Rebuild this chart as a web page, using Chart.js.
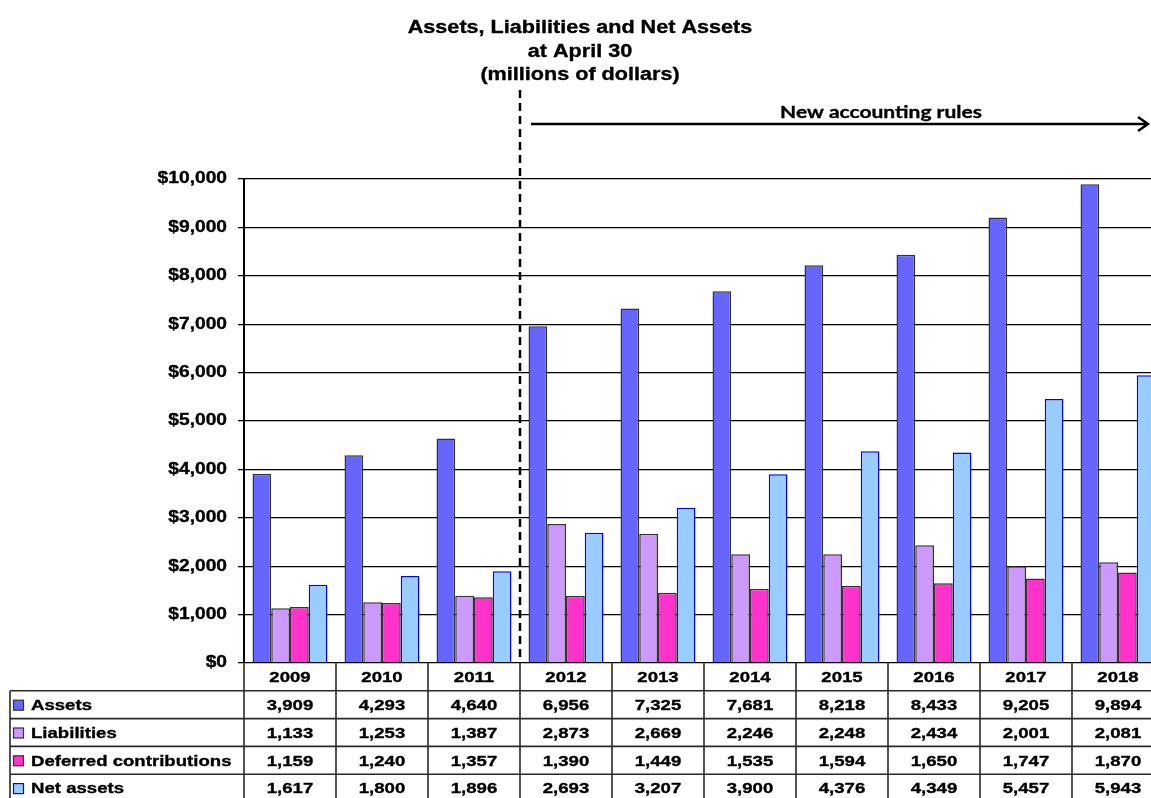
<!DOCTYPE html>
<html lang="en">
<head>
  <meta charset="UTF-8" />
  <title>Assets, Liabilities and Net Assets</title>
  <script src="https://cdn.jsdelivr.net/npm/chart.js"></script>
  <style>
    body { margin: 0; background: #fff; overflow: hidden; }
    #wrap { width: 1170px; height: 798px; position: relative; }
  </style>
</head>
<body>
  <div id="wrap"><canvas id="chart"></canvas></div>

  <script>
    const years = ['2009', '2010', '2011', '2012', '2013', '2014', '2015', '2016', '2017', '2018'];
    const assets = [3909, 4293, 4640, 6956, 7325, 7681, 8218, 8433, 9205, 9894];
    const liabilities = [1133, 1253, 1387, 2873, 2669, 2246, 2248, 2434, 2001, 2081];
    const deferred = [1159, 1240, 1357, 1390, 1449, 1535, 1594, 1650, 1747, 1870];
    const netAssets = [1617, 1800, 1896, 2693, 3207, 3900, 4376, 4349, 5457, 5943];
    const yTicks = [0, 1000, 2000, 3000, 4000, 5000, 6000, 7000, 8000, 9000, 10000];
    const titleLines = ['Assets, Liabilities and Net Assets', 'at April 30', '(millions of dollars)'];
    const ruleLabel = 'New accounting rules';
    const ruleStart = 3; // first year under the new rules (2012)

    const series = [
      { label: 'Assets', data: assets, fill: '#6666ff', border: '#333333' },
      { label: 'Liabilities', data: liabilities, fill: '#cc99ff', border: '#333333' },
      { label: 'Deferred contributions', data: deferred, fill: '#ff33cc', border: '#333333' },
      { label: 'Net assets', data: netAssets, fill: '#99ccff', border: '#0000ff' }
    ];

    // the picture is stretched sideways, so text is too
    const SX = 1.2;
    const FONT = '"Liberation Sans", Arial, sans-serif';

    function txt(ctx, s, x, y, align, font) {
      ctx.save();
      ctx.font = font;
      ctx.textAlign = align;
      ctx.textBaseline = 'middle';
      ctx.translate(x, y);
      ctx.scale(SX, 1);
      ctx.fillText(s, 0, 0);
      // a touch heavier, like the original
      ctx.lineWidth = 0.35;
      ctx.strokeStyle = ctx.fillStyle;
      ctx.strokeText(s, 0, 0);
      ctx.restore();
    }

    const extras = {
      id: 'extras',
      afterDraw(chart) {
        const ctx = chart.ctx;
        const xs = chart.scales.x;
        const ys = chart.scales.y;
        const area = chart.chartArea;
        const half = (xs.getPixelForValue(1) - xs.getPixelForValue(0)) / 2;
        ctx.fillStyle = '#000';

        // y labels
        yTicks.forEach(v => {
          txt(ctx, '$' + v.toLocaleString('en-US'), 227, ys.getPixelForValue(v), 'right', 'bold 16px ' + FONT);
        });

        // title
        ctx.save();
        ctx.font = 'bold 18px ' + FONT;
        ctx.textAlign = 'center';
        ctx.textBaseline = 'alphabetic';
        [33, 57, 80].forEach((y, i) => {
          ctx.save();
          ctx.translate(580, y);
          ctx.scale(SX, 1);
          ctx.fillText(titleLines[i], 0, 0);
          ctx.lineWidth = 0.35;
          ctx.strokeText(titleLines[i], 0, 0);
          ctx.restore();
        });
        ctx.restore();

        // dashed divider between old and new rules
        const divX = (xs.getPixelForValue(ruleStart - 1) + xs.getPixelForValue(ruleStart)) / 2;
        ctx.save();
        ctx.strokeStyle = '#000';
        ctx.lineWidth = 2.5;
        ctx.setLineDash([8, 5]);
        ctx.beginPath();
        ctx.moveTo(divX, 90);
        ctx.lineTo(divX, area.bottom - 3);
        ctx.stroke();
        ctx.restore();

        // arrow
        const ay = 124, ax0 = divX + 11, ax1 = 1148;
        ctx.save();
        ctx.strokeStyle = '#000';
        ctx.lineWidth = 2.5;
        ctx.beginPath();
        ctx.moveTo(ax0, ay);
        ctx.lineTo(ax1, ay);
        ctx.moveTo(ax1 - 10, ay - 7);
        ctx.lineTo(ax1, ay);
        ctx.lineTo(ax1 - 10, ay + 7);
        ctx.stroke();
        ctx.restore();
        txt(ctx, ruleLabel, 881, 112, 'center', 'bold 17.5px Lato, "Open Sans", sans-serif');

        // data table
        const top = area.bottom;
        const rowH = 27.8;
        const left = 10;
        const right = chart.width;
        ctx.save();
        ctx.strokeStyle = '#2a2a2a';
        ctx.lineWidth = 1.6;
        ctx.beginPath();
        for (let r = 1; r <= 5; r++) {
          const y = top + r * rowH;
          ctx.moveTo(left, y);
          ctx.lineTo(right, y);
        }
        ctx.moveTo(left, top + rowH);
        ctx.lineTo(left, chart.height);
        years.forEach((_, i) => {
          const x = xs.getPixelForValue(i) - half;
          ctx.moveTo(x, top);
          ctx.lineTo(x, chart.height);
        });
        ctx.stroke();
        ctx.restore();

        const cellFont = 'bold 15.5px ' + FONT;
        years.forEach((yr, i) => {
          txt(ctx, yr, xs.getPixelForValue(i), top + rowH / 2 + 1, 'center', cellFont);
        });
        series.forEach((s, r) => {
          const cy = top + rowH * (r + 1.5) + 1;
          ctx.fillStyle = s.fill;
          ctx.strokeStyle = s.border;
          ctx.lineWidth = 1.2;
          ctx.fillRect(13.5, cy - 5.5, 10, 10);
          ctx.strokeRect(13.5, cy - 5.5, 10, 10);
          ctx.fillStyle = '#000';
          txt(ctx, s.label, 31, cy, 'left', cellFont);
          s.data.forEach((v, i) => {
            txt(ctx, v.toLocaleString('en-US'), xs.getPixelForValue(i), cy, 'center', cellFont);
          });
        });
      }
    };

    new Chart(document.getElementById('chart'), {
      type: 'bar',
      data: {
        labels: years,
        datasets: series.map(s => ({
          label: s.label,
          data: s.data,
          backgroundColor: s.fill,
          borderColor: s.border,
          borderWidth: 1.5,
          categoryPercentage: 0.815,
          barPercentage: 1
        }))
      },
      options: {
        responsive: true,
        maintainAspectRatio: false,
        animation: false,
        layout: { padding: { top: 179, bottom: 135, left: 0, right: 6 } },
        plugins: {
          legend: { display: false },
          title: { display: false },
          tooltip: { enabled: false }
        },
        scales: {
          x: { display: false },
          y: {
            min: 0,
            max: 10000,
            afterFit: s => { s.width = 244; },
            afterBuildTicks: s => { s.ticks = yTicks.map(v => ({ value: v })); },
            ticks: { color: 'rgba(0,0,0,0)', font: { size: 16 } },
            grid: { color: '#000', lineWidth: 1.3, tickLength: 6 },
            border: { color: '#000', width: 2 }
          }
        }
      },
      plugins: [extras]
    });
  </script>
</body>
</html>
